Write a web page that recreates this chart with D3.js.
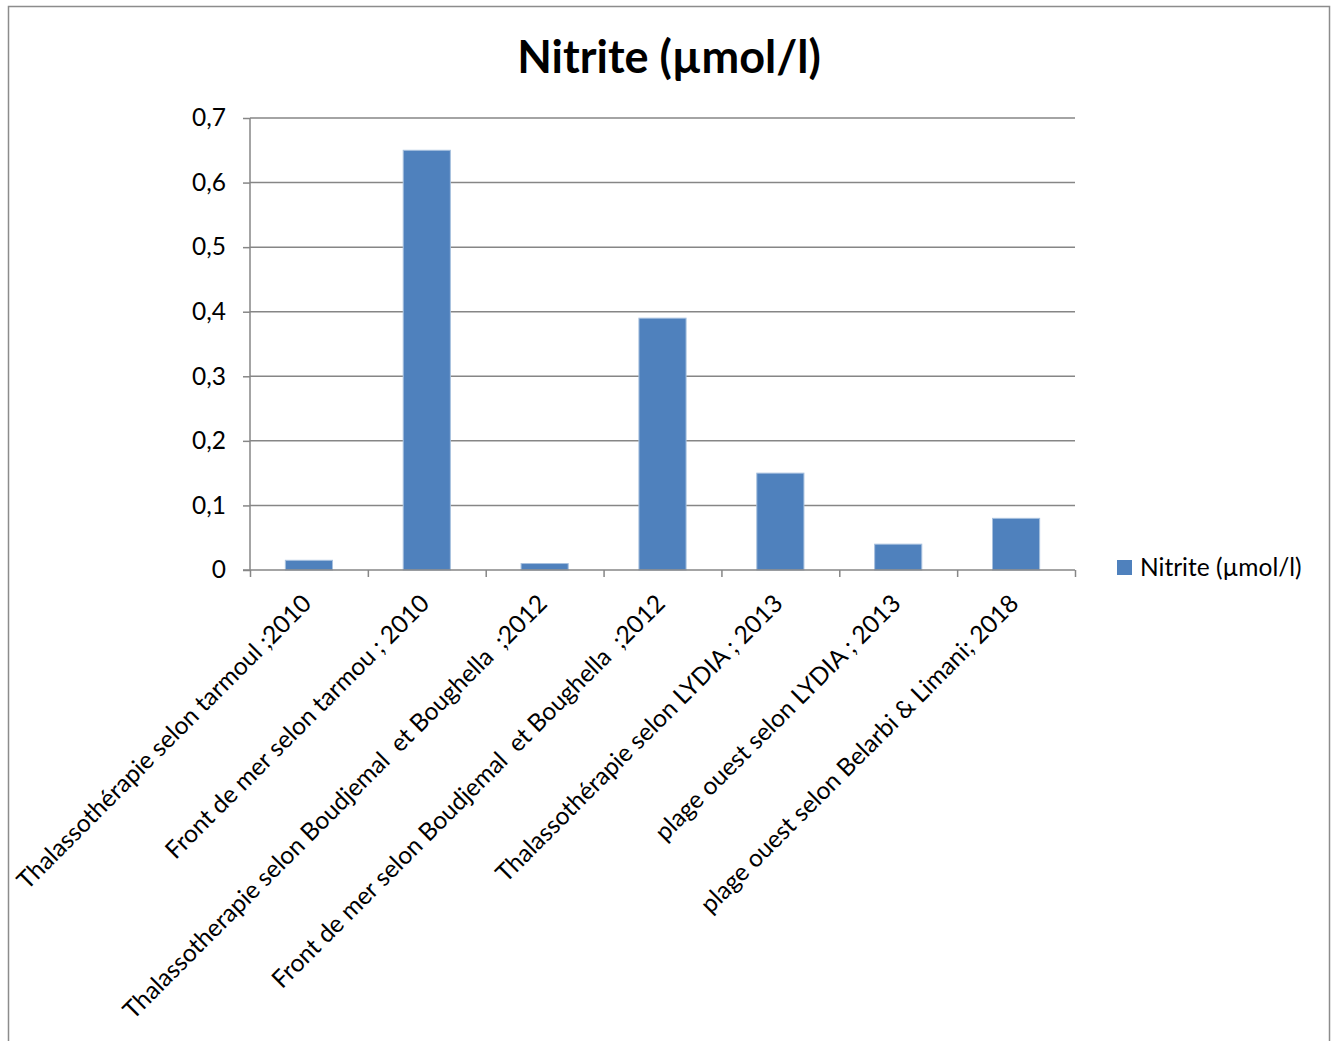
<!DOCTYPE html>
<html>
<head>
<meta charset="utf-8">
<script src="https://cdn.jsdelivr.net/npm/d3@7"></script>
<style>
  html, body { margin: 0; padding: 0; background: #fff; }
  svg { display: block; }
  text { font-family: Lato, "Open Sans", sans-serif; fill: #000; }
</style>
</head>
<body>
<svg id="chart" width="1338" height="1041"></svg>
<script>
const title = "Nitrite (µmol/l)";
const seriesName = "Nitrite (µmol/l)";
const categories = [
  "Thalassothérapie selon tarmoul ;2010",
  "Front de mer selon tarmou ; 2010",
  "Thalassotherapie selon Boudjemal  et Boughella  ;2012",
  "Front de mer selon Boudjemal  et Boughella  ;2012",
  "Thalassothérapie selon LYDIA ; 2013",
  "plage ouest selon LYDIA ; 2013",
  "plage ouest selon Belarbi & Limani; 2018"
];
const values = [0.015, 0.65, 0.01, 0.39, 0.15, 0.04, 0.08];
const yTicks = [0, 0.1, 0.2, 0.3, 0.4, 0.5, 0.6, 0.7];

const svg = d3.select("#chart");
const pLeft = 250, pRight = 1075, pTop = 118, pBottom = 570;
const gridColor = "#868686";
const barColor = "#4F81BD";
const fs = 24.5;

// outer frame
svg.append("rect").attr("x", 8.5).attr("y", 6.5).attr("width", 1321).attr("height", 1100)
  .attr("fill", "none").attr("stroke", "#8c8c8c").attr("stroke-width", 1.5);

const x = d3.scaleBand().domain(categories).range([pLeft, pRight]).paddingInner(0.6).paddingOuter(0.3);
const y = d3.scaleLinear().domain([0, 0.7]).range([pBottom, pTop]);

// gridlines
svg.append("g").selectAll("line").data(yTicks.filter(d => d > 0)).join("line")
  .attr("x1", pLeft).attr("x2", pRight)
  .attr("y1", d => y(d)).attr("y2", d => y(d))
  .attr("stroke", gridColor).attr("stroke-width", 1.5);

// y axis
const yAxis = svg.append("g").attr("transform", `translate(${pLeft},0)`)
  .call(d3.axisLeft(y).tickValues(yTicks).tickSize(7).tickPadding(17)
    .tickFormat(d => d3.format(".1~f")(d).replace(".", ",")));
yAxis.select(".domain").attr("stroke", gridColor).attr("stroke-width", 1.5).attr("d", `M0,${pTop}V${pBottom}`);
yAxis.selectAll(".tick line").attr("stroke", gridColor).attr("stroke-width", 1.5);
yAxis.selectAll(".tick text").attr("font-size", fs).attr("font-family", "Lato").attr("fill", "#000");

// bars
svg.append("g").selectAll("rect").data(categories).join("rect")
  .attr("x", d => x(d))
  .attr("y", (d, i) => y(values[i]))
  .attr("width", x.bandwidth())
  .attr("height", (d, i) => y(0) - y(values[i]))
  .attr("fill", barColor)
  .attr("stroke", "#a7c0de").attr("stroke-width", 1);

// x axis
const xb = d3.scaleLinear().domain([0, categories.length]).range([pLeft, pRight]);
const xAxis = svg.append("g").attr("transform", `translate(0,${pBottom})`)
  .call(d3.axisBottom(xb).tickValues(d3.range(0, categories.length + 1)).tickSize(7).tickFormat(""));
xAxis.select(".domain").attr("stroke", gridColor).attr("stroke-width", 1.5).attr("d", `M${pLeft - 7},0H${pRight}`);
xAxis.selectAll(".tick line").attr("stroke", gridColor).attr("stroke-width", 1.5);

// category labels rotated
svg.append("g").selectAll("text").data(categories).join("text")
  .attr("transform", d => `translate(${x(d) + x.bandwidth() / 2 + 4},${pBottom + 35}) rotate(-45)`)
  .attr("text-anchor", "end")
  .attr("font-size", fs)
  .style("white-space", "pre")
  .text(d => d);

// title
svg.append("text").attr("x", 669).attr("y", 73).attr("text-anchor", "middle")
  .attr("font-size", 45).attr("font-weight", "bold").text(title);

// legend
svg.append("rect").attr("x", 1117).attr("y", 560).attr("width", 15).attr("height", 15).attr("fill", barColor);
svg.append("text").attr("x", 1140).attr("y", 576).attr("font-size", fs).text(seriesName);
</script>
</body>
</html>
